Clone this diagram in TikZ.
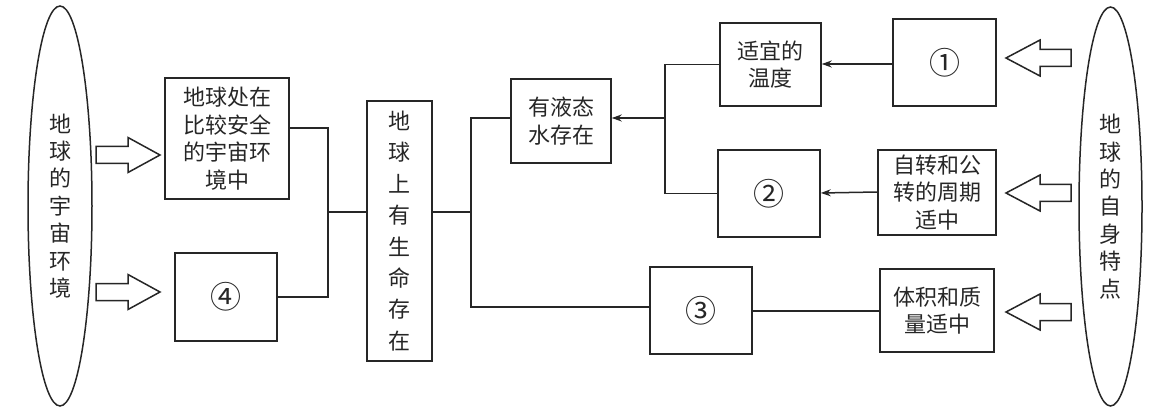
\documentclass[tikz,border=0pt]{standalone}
\usepackage{fontspec}
\newfontfamily\cjk{Noto Sans CJK SC}
\usetikzlibrary{arrows.meta,shapes.geometric}
\begin{document}
\begin{tikzpicture}[x=1pt,y=-1pt,
  ink/.style={draw=black!85,line width=1.5pt},
  box/.style={ink,rectangle,inner sep=0pt,align=center,text=black!85,
    font=\cjk\fontsize{22}{27.5}\selectfont},
  num/.style={box,font=\cjk\fontsize{31}{31}\selectfont},
  oval/.style={ink,ellipse,inner sep=0pt,align=center,text=black!85,
    font=\cjk\fontsize{22}{27.4}\selectfont},
  link/.style={ink},
  arr/.style={ink,-{Stealth[length=10pt,width=7pt]}},
  hollow/.style={ink,fill=white,line join=miter}]
\useasboundingbox (0,0) rectangle (1164,414);
% ellipses
\node[oval,minimum width=64,minimum height=400] (L) at (60,206)
  {地\\球\\的\\宇\\宙\\环\\境};
\node[oval,minimum width=63,minimum height=399] (R) at (1110.5,206.5)
  {地\\球\\的\\自\\身\\特\\点};
% boxes
\node[box,minimum width=124,minimum height=121] (A) at (227,138.5)
  {地球处在\\比较安全\\的宇宙环\\境中};
\node[num,minimum width=102,minimum height=88] (D) at (226,297) {④};
\node[box,minimum width=65,minimum height=260,
  font=\cjk\fontsize{22}{31.4}\selectfont] (C) at (399.5,231)
  {地\\球\\上\\有\\生\\命\\存\\在};
\node[box,minimum width=100,minimum height=84] (W) at (561,121)
  {有液态\\水存在};
\node[box,minimum width=101,minimum height=83] (T) at (770.5,64.5)
  {适宜的\\温度};
\node[num,minimum width=102,minimum height=87] (B2) at (769,193.5) {②};
\node[num,minimum width=102,minimum height=87] (B3) at (701,310.5) {③};
\node[num,minimum width=103,minimum height=87] (B1) at (944.5,62.5) {①};
\node[box,minimum width=118,minimum height=85] (S) at (937,192.5)
  {自转和公\\转的周期\\适中};
\node[box,minimum width=114,minimum height=83] (V) at (937,310.5)
  {体积和质\\量适中};
% junction coordinates
\coordinate (j1) at (328,212);
\coordinate (j2) at (471,212);
\coordinate (j3) at (665,118);
% left connectors
\draw[link] ([yshift=10.5pt]A.east) -| (j1) |- (D.east);
\draw[link] (j1) -- ([yshift=19pt]C.west);
% middle connectors
\draw[link] ([yshift=19pt]C.east) -- (j2);
\draw[link] ([yshift=3pt]W.west) -| (j2) |- ([yshift=3.5pt]B3.west);
\draw[arr] (j3) -- ([yshift=3pt]W.east);
\draw[link] (T.west) -| (j3) |- (B2.west);
% right arrows
\draw[arr] ([yshift=-1.5pt]B1.west) -- ([yshift=0.5pt]T.east);
\draw[arr] ([yshift=0.5pt]S.west) -- ([yshift=0.5pt]B2.east);
\draw[link] ([yshift=-0.5pt]B3.east) -- ([yshift=-0.5pt]V.west);
% hollow block arrows (left side, pointing right)
\foreach \yy in {155,292}{
  \draw[hollow] (96,\yy-8.5) -- (128,\yy-8.5) -- (128,\yy-17.5) -- (160,\yy)
    -- (128,\yy+17.5) -- (128,\yy+8.5) -- (96,\yy+8.5) -- cycle;
}
% hollow block arrows (right side, pointing left)
\foreach \yy in {58,193,312}{
  \draw[hollow] (1071,\yy-8.5) -- (1040,\yy-8.5) -- (1040,\yy-18) -- (1006,\yy)
    -- (1040,\yy+18) -- (1040,\yy+8.5) -- (1071,\yy+8.5) -- cycle;
}
\end{tikzpicture}
\end{document}
